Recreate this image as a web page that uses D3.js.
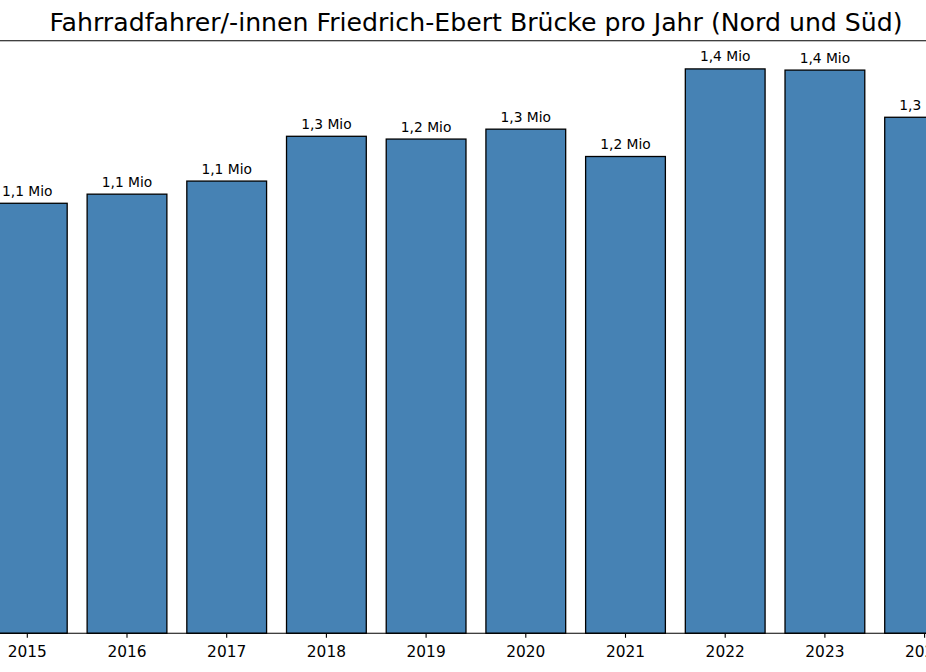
<!DOCTYPE html>
<html>
<head>
<meta charset="utf-8">
<script src="https://cdn.jsdelivr.net/npm/d3@7"></script>
<style>
  html, body { margin: 0; padding: 0; background: #fff; overflow: hidden; }
  svg { display: block; font-family: "DejaVu Sans", sans-serif; }
</style>
</head>
<body>
<svg id="chart" width="926" height="672"></svg>
<script>
const years = ["2015", "2016", "2017", "2018", "2019", "2020", "2021", "2022", "2023", "2024"];
const riders = [1085000, 1108000, 1141000, 1254000, 1247000, 1272000, 1203000, 1424000, 1421000, 1302000];
const titleText = "Fahrradfahrer/-innen Friedrich-Ebert Brücke pro Jahr (Nord und Süd)";

const W = 926, H = 672;
const svg = d3.select("#chart");
const step = 99.7, firstCenter = 27.3;
const x = d3.scaleBand()
  .domain(years)
  .range([firstCenter - step / 2, firstCenter - step / 2 + step * years.length])
  .paddingInner(0.2).paddingOuter(0.1);
const yTop = 40.7, yBase = 633.3;
const y = d3.scaleLinear().domain([0, d3.max(riders) * 1.05]).range([yBase, yTop]);

const fmt = v => (Math.round(v / 1e5) / 10).toFixed(1).replace(".", ",") + " Mio";

const data = years.map((yr, i) => ({ yr, v: riders[i] }));

svg.append("g").selectAll("rect").data(data).join("rect")
  .attr("x", d => x(d.yr))
  .attr("y", d => y(d.v))
  .attr("width", x.bandwidth())
  .attr("height", d => yBase - y(d.v))
  .attr("fill", "#4682b4")
  .attr("stroke", "#000")
  .attr("stroke-width", 1.3);

svg.append("g").selectAll("text").data(data).join("text")
  .attr("x", d => x(d.yr) + x.bandwidth() / 2)
  .attr("y", d => y(d.v) - 7.5)
  .attr("text-anchor", "middle")
  .attr("font-size", "13.8px")
  .attr("fill", "#000")
  .text(d => fmt(d.v));

// spines
svg.append("line").attr("x1", 0).attr("x2", W).attr("y1", yTop).attr("y2", yTop)
  .attr("stroke", "#000").attr("stroke-width", 1.1);

const xAxis = d3.axisBottom(x).tickSizeInner(4.5).tickSizeOuter(0).tickPadding(8.5);
const gx = svg.append("g").attr("transform", `translate(0,${yBase})`).call(xAxis);
gx.select(".domain").remove();
gx.selectAll(".tick line").attr("stroke", "#000").attr("stroke-width", 1.1);
gx.selectAll(".tick text").attr("font-size", "15.4px").attr("fill", "#000")
  .attr("font-family", "DejaVu Sans, sans-serif");
svg.append("line").attr("x1", 0).attr("x2", W).attr("y1", yBase).attr("y2", yBase)
  .attr("stroke", "#000").attr("stroke-width", 1.1);

svg.append("text")
  .attr("x", 476).attr("y", 30.5)
  .attr("text-anchor", "middle")
  .attr("font-size", "25.2px")
  .attr("fill", "#000")
  .text(titleText);
</script>
</body>
</html>
